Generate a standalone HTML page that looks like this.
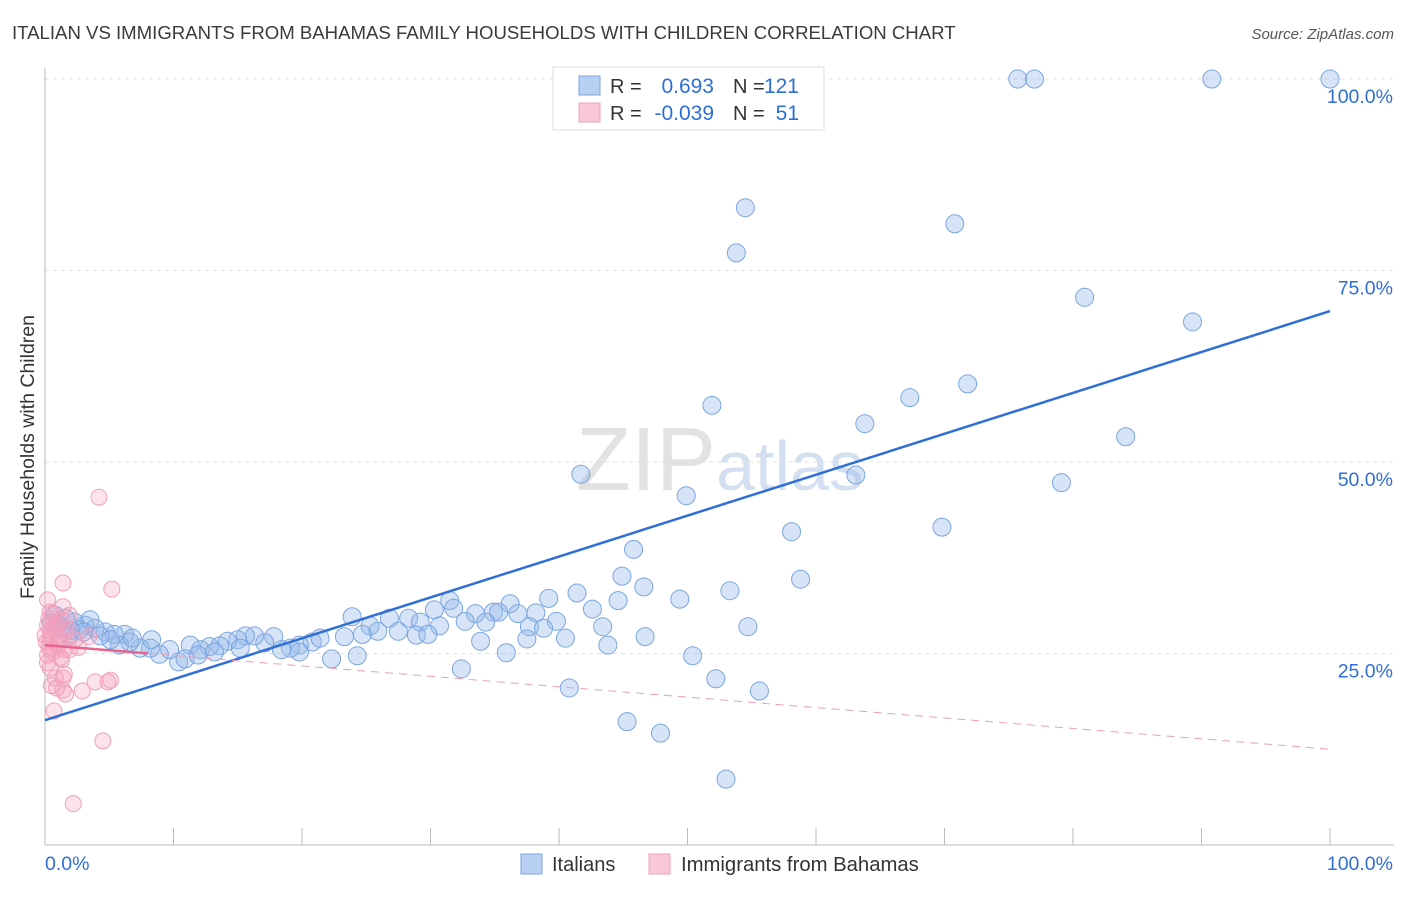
<!DOCTYPE html>
<html><head><meta charset="utf-8"><style>
body{margin:0;background:#fff;font-family:"Liberation Sans",sans-serif;}
svg text{font-family:"Liberation Sans",sans-serif;}
</style></head><body>
<svg id="chart" width="1406" height="892" viewBox="0 0 1406 892" xmlns="http://www.w3.org/2000/svg">
<text x="12" y="39" font-size="18.6" fill="#3a3a3a">ITALIAN VS IMMIGRANTS FROM BAHAMAS FAMILY HOUSEHOLDS WITH CHILDREN CORRELATION CHART</text>
<text x="1394" y="39" font-size="15" fill="#555" text-anchor="end" font-style="italic">Source: ZipAtlas.com</text>
<text x="720" y="490" font-size="90" fill="#e2e2e2" text-anchor="middle" font-family="Liberation Serif">ZIP<tspan fill="#d3e0f2" font-family="Liberation Sans" font-size="70">atlas</tspan></text>
<text transform="translate(34,457) rotate(-90)" font-size="19.5" fill="#333" text-anchor="middle">Family Households with Children</text>
<g id="grid"></g><g id="axes"></g><g id="marks"></g>
<g>
<rect x="553" y="67" width="271" height="63" fill="#fff" stroke="#ddd"/>
<rect x="579" y="76" width="21" height="19" fill="#b8d0f2" stroke="#7aa6e0"/>
<rect x="579" y="103" width="21" height="19" fill="#f9c8d8" stroke="#f0a0bb"/>
<text x="610" y="93" font-size="20" fill="#333">R =</text>
<text x="714" y="93" font-size="21" fill="#2f6fd6" text-anchor="end">0.693</text>
<text x="733" y="93" font-size="20" fill="#333">N =</text>
<text x="799" y="93" font-size="21" fill="#2f6fd6" text-anchor="end">121</text>
<text x="610" y="120" font-size="20" fill="#333">R =</text>
<text x="714" y="120" font-size="21" fill="#2f6fd6" text-anchor="end">-0.039</text>
<text x="733" y="120" font-size="20" fill="#333">N =</text>
<text x="799" y="120" font-size="21" fill="#2f6fd6" text-anchor="end">51</text>
</g>
<g>
<rect x="521" y="854" width="21" height="20" fill="#b8d0f2" stroke="#7aa6e0"/>
<text x="552" y="871" font-size="20" fill="#333">Italians</text>
<rect x="649" y="854" width="21" height="20" fill="#f9c8d8" stroke="#f0a0bb"/>
<text x="681" y="871" font-size="20.3" fill="#333">Immigrants from Bahamas</text>
</g>
</svg>
<script>
const yTicks=[25,50,75,100];
const yTickLabels=["25.0%","50.0%","75.0%","100.0%"];
const xTickVals=[0,10,20,30,40,50,60,70,80,90,100];
const italiansX=[75.7,77,90.8,100,54.5,53.8,70.8,80.9,89.3,71.8,67.3,51.9,63.8,84.1,41.7,63.1,49.9,79.1,69.8,58.1,45.8,44.9,46.6,58.8,53.3,41.4,49.4,44.6,39.2,42.6,36.2,31.5,31.8,30.3,34.9,33.5,35.3,36.8,38.2,39.8,32.7,34.3,37.7,38.8,43.4,54.7,23.9,26.8,28.3,29.2,30.7,25.3,27.5,25.9,24.7,23.3,28.9,29.8,37.5,40.5,46.7,33.9,43.8,35.9,50.4,24.3,22.3,32.4,40.8,52.2,55.6,45.3,47.9,53,20.8,21.4,19.8,19.1,18.4,19.8,17.8,17.1,16.3,15.6,15.0,14.2,13.6,12.8,12.1,11.3,10.4,9.7,8.9,8.2,7.4,8.3,6.6,6.2,5.4,4.7,3.9,3.1,2.3,1.6,0.8,1.2,2.7,4.3,5.8,5.1,1.9,3.5,10.9,11.9,15.2,13.2,0.5,1.0,2.0,3.0,6.8];
const italiansY=[100,100,100,100,83.2,77.3,81.1,71.5,68.3,60.2,58.4,57.4,55,53.3,48.4,48.3,45.6,47.3,41.5,40.9,38.6,35.1,33.7,34.7,33.2,32.9,32.1,31.9,32.2,30.8,31.5,31.9,30.9,30.7,30.4,30.2,30.4,30.2,30.3,29.2,29.2,29.1,28.5,28.3,28.5,28.5,29.8,29.6,29.6,29.1,28.6,28.6,27.9,27.9,27.5,27.2,27.4,27.5,26.9,27,27.2,26.6,26.1,25.1,24.7,24.7,24.3,23.0,20.5,21.7,20.1,16.1,14.6,8.6,26.5,27.0,26.1,25.7,25.5,25.2,27.2,26.4,27.3,27.3,26.8,26.6,26.0,25.9,25.5,26.1,23.9,25.5,24.9,25.7,25.7,26.8,26.5,27.5,27.5,27.8,28.3,28.7,29.1,29.6,30,28.3,28.1,27.3,26.1,26.8,27.3,29.4,24.3,24.8,25.7,25.2,29.0,28.8,28.0,27.8,27.0];
const bahamasX=[4.2,1.4,5.2,1.4,0.4,0.2,0.8,1.3,0.4,1.0,0.2,1.5,1.9,1.3,0.4,0.8,1.4,0.5,0.9,1.4,1.6,2.9,3.9,4.9,5.1,0.7,4.5,2.2,0.2,1.9,0,2.3,0.5,1.6,0.3,0.6,1.1,0.9,0.3,1.2,2.6,0.1,0.7,3.4,0.4,1.8,0.2,0.6,1.0,0.4,1.5];
const bahamasY=[45.4,34.2,33.4,31.1,30.4,28.7,28.1,29.4,26.8,26.1,24.8,25.5,25.5,24.2,23.1,21.8,21.8,20.8,20.5,20.2,19.7,20.1,21.3,21.3,21.5,17.5,13.6,5.4,32,30,27.4,26.8,27.4,27.7,26.0,25.2,27.0,28.5,29.5,24.5,25.8,26.5,29.0,27.2,25.5,28.2,23.8,30.2,26.5,28.0,22.3];
const blueTrend=[16.3,69.7];
const pinkTrend=[26.1,12.5];
const NS="http://www.w3.org/2000/svg";
const X0=45,X1=1330,Y0=845,Y100=79;
const xs=v=>X0+(X1-X0)*v/100;
const ys=v=>Y0-(Y0-Y100)*v/100;
function mk(tag,attrs,parent){const e=document.createElementNS(NS,tag);for(const k in attrs)e.setAttribute(k,attrs[k]);parent.appendChild(e);return e;}
const grid=document.getElementById('grid'),axes=document.getElementById('axes'),marks=document.getElementById('marks');
yTicks.forEach((t,i)=>{
 const l=mk('line',{x1:X0,x2:1394,y1:ys(t),y2:ys(t),stroke:'#e0e0e0','stroke-dasharray':'4,4'},grid);
 
 
 const tx=mk('text',{x:1393,y:ys(t)+24,'font-size':19.5,fill:'#2f6fd6','text-anchor':'end'},axes);
 tx.textContent=yTickLabels[i];
 
 
});
const ax=mk('line',{x1:X0,x2:X0,y1:68,y2:Y0,stroke:'#bbb'},axes);


const bx=mk('line',{x1:X0,x2:1394,y1:Y0,y2:Y0,stroke:'#bbb'},axes);


xTickVals.forEach(t=>{
 const l=mk('line',{x1:xs(t),x2:xs(t),y1:828,y2:Y0,stroke:'#bbb'},axes);
 
 
});
const xl=mk('text',{x:45,y:870,'font-size':19.5,fill:'#2f6fd6'},axes);xl.textContent='0.0%';


const xr=mk('text',{x:1393,y:870,'font-size':19.5,fill:'#2f6fd6','text-anchor':'end'},axes);xr.textContent='100.0%';


italiansX.forEach((v,i)=>{
 const c=mk('circle',{cx:xs(v),cy:ys(italiansY[i]),r:9,fill:'rgba(150,185,235,0.38)',stroke:'#7aa6e0','stroke-width':1},marks);
 
 
});
bahamasX.forEach((v,i)=>{
 const c=mk('circle',{cx:xs(v),cy:ys(bahamasY[i]),r:8,fill:'rgba(245,160,190,0.3)',stroke:'#f0a0bb','stroke-width':1},marks);
 
 
});
const bt=mk('line',{x1:xs(0),y1:ys(blueTrend[0]),x2:xs(100),y2:ys(blueTrend[1]),stroke:'#2f6fd6','stroke-width':2.5},marks);


const pe=8,pm=pinkTrend[0]+(pinkTrend[1]-pinkTrend[0])*pe/100;
const ps=mk('line',{x1:xs(0),y1:ys(pinkTrend[0]),x2:xs(pe),y2:ys(pm),stroke:'#e8638f','stroke-width':2.5},marks);


const pd=mk('line',{x1:xs(pe),y1:ys(pm),x2:xs(100),y2:ys(pinkTrend[1]),stroke:'#e8a0b8','stroke-width':1,'stroke-dasharray':'8,6'},marks);


</script>
</body></html>
